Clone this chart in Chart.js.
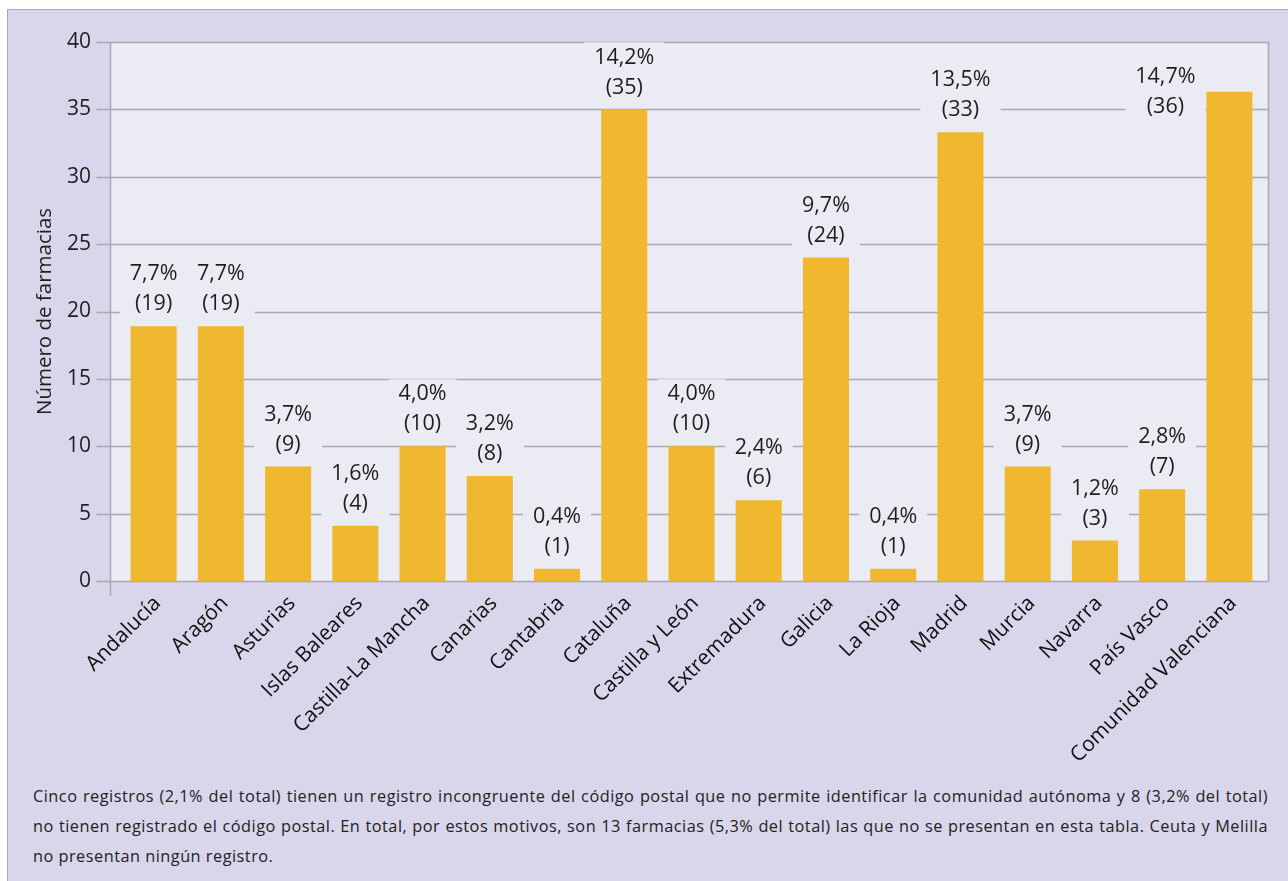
<!DOCTYPE html>
<html lang="es">
<head>
<meta charset="utf-8">
<title>Farmacias por comunidad autónoma</title>
<script src="https://cdn.jsdelivr.net/npm/chart.js@4.4.1/dist/chart.umd.min.js"></script>
<style>
  html, body { margin: 0; padding: 0; background: #fff; width: 1288px; height: 881px; overflow: hidden; }
  .box {
    position: absolute; left: 7px; top: 9px; width: 1300px; height: 900px;
    background: #d9d5ea; border-left: 1px solid #a9a8b2; border-top: 1px solid #a9a8b2;
  }
  #wrap { position: absolute; left: 0; top: 0; width: 1288px; height: 760px; }
  .note {
    position: absolute; left: 33px; top: 781px; width: 1235px;
    font-family: "Open Sans", sans-serif; font-size: 16.3px; letter-spacing: 0.5px;
    color: #222; line-height: 30px;
  }
  .note div { white-space: nowrap; text-align: justify; text-align-last: justify; }
  .note div.last { text-align-last: left; }
</style>
</head>
<body>
<div class="box"></div>
<div id="wrap"><canvas id="chart" width="1288" height="760"></canvas></div>
<div class="note">
  <div>Cinco registros (2,1% del total) tienen un registro incongruente del código postal que no permite identificar la comunidad autónoma y 8 (3,2% del total)</div>
  <div>no tienen registrado el código postal. En total, por estos motivos, son 13 farmacias (5,3% del total) las que no se presentan en esta tabla. Ceuta y Melilla</div>
  <div class="last">no presentan ningún registro.</div>
</div>
<script>
const regions = ["Andalucía", "Aragón", "Asturias", "Islas Baleares", "Castilla-La Mancha", "Canarias",
  "Cantabria", "Cataluña", "Castilla y León", "Extremadura", "Galicia", "La Rioja", "Madrid",
  "Murcia", "Navarra", "País Vasco", "Comunidad Valenciana"];
const barValues = [18.9, 18.9, 8.5, 4.1, 10, 7.8, 0.9, 35, 10, 6, 24, 0.9, 33.3, 8.5, 3, 6.8, 36.3];
const shareLabels = ["7,7%", "7,7%", "3,7%", "1,6%", "4,0%", "3,2%", "0,4%", "14,2%", "4,0%", "2,4%",
  "9,7%", "0,4%", "13,5%", "3,7%", "1,2%", "2,8%", "14,7%"];
const countLabels = ["(19)", "(19)", "(9)", "(4)", "(10)", "(8)", "(1)", "(35)", "(10)", "(6)",
  "(24)", "(1)", "(33)", "(9)", "(3)", "(7)", "(36)"];
const yMax = 40;
const yStep = 5;

const plotBg = "#ebebf4";
const lineColor = "#a9a9b0";

// plot frame, gridlines and tick marks (frame is a bit wider than the category range)
const framePlugin = {
  id: "frame",
  beforeDatasetsDraw(chart) {
    const { ctx, chartArea: a, scales: { y } } = chart;
    const left = a.left - 9.5, right = a.right + 5.5;
    ctx.save();
    ctx.fillStyle = plotBg;
    ctx.fillRect(left, a.top, right - left, a.bottom - a.top);
    ctx.strokeStyle = lineColor;
    ctx.lineWidth = 1.5;
    const seg = (x1, y1, x2, y2) => { ctx.beginPath(); ctx.moveTo(x1, y1); ctx.lineTo(x2, y2); ctx.stroke(); };
    for (let v = 0; v <= yMax; v += yStep) {
      const py = Math.round(y.getPixelForValue(v)) + 0.5;
      seg(left - 14, py, right, py);
    }
    seg(left, a.top, left, a.bottom + 15);
    seg(right, a.top, right, a.bottom);
    ctx.restore();
  }
};

// two-line labels over each bar, with a patch of plot colour behind them
const labelPlugin = {
  id: "barLabels",
  afterDatasetsDraw(chart) {
    const { ctx, chartArea: a } = chart;
    const bars = chart.getDatasetMeta(0).data;
    ctx.save();
    ctx.font = '21.5px "Open Sans", sans-serif';
    ctx.textAlign = "center";
    ctx.textBaseline = "middle";
    bars.forEach((bar, i) => {
      let x = bar.x;
      let y2 = bar.y - 22;
      let y1 = y2 - 30;
      if (y1 - 10 < a.top) {
        x = bar.x - 64;
        y1 = a.top + 35;
        y2 = a.top + 65;
      }
      const w = Math.max(ctx.measureText(shareLabels[i]).width, ctx.measureText(countLabels[i]).width) + 20;
      ctx.fillStyle = plotBg;
      ctx.fillRect(x - w / 2, y1 - 15, w, y2 - y1 + 30);
      ctx.fillStyle = "#1e1e1e";
      ctx.fillText(shareLabels[i], x, y1);
      ctx.fillText(countLabels[i], x, y2);
    });
    ctx.restore();
  }
};

new Chart(document.getElementById("chart"), {
  type: "bar",
  data: {
    labels: regions,
    datasets: [{
      data: barValues,
      backgroundColor: "#f0b82e",
      borderWidth: 0,
      categoryPercentage: 1,
      barPercentage: 0.685
    }]
  },
  options: {
    responsive: false,
    animation: false,
    layout: { padding: { left: 0, right: 25, top: 42, bottom: 0 } },
    plugins: { legend: { display: false }, tooltip: { enabled: false } },
    scales: {
      x: {
        grid: { display: false, drawTicks: false },
        border: { display: false },
        ticks: {
          color: "#111",
          font: { family: "Open Sans", size: 21 },
          minRotation: 45, maxRotation: 45,
          autoSkip: false,
          padding: 10,
          labelOffset: 4
        },
        afterFit(scale) { scale.height = 179; }
      },
      y: {
        min: 0, max: yMax,
        grid: { display: false, drawTicks: false },
        border: { display: false },
        ticks: {
          stepSize: yStep,
          color: "#1e1e1e",
          font: { family: "Open Sans", size: 21 },
          padding: 29
        },
        title: {
          display: true,
          text: "Número de farmacias",
          color: "#1e1e1e",
          font: { family: "Open Sans", size: 20.5 },
          padding: { top: 33, bottom: 0 }
        },
        afterFit(scale) { scale.width = 120; }
      }
    }
  },
  plugins: [framePlugin, labelPlugin]
});
</script>
</body>
</html>
